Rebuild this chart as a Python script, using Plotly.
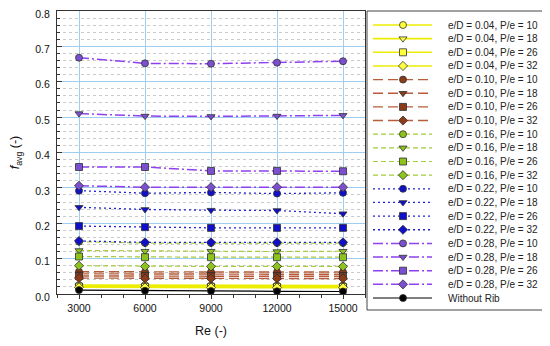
import plotly.graph_objects as go

# ---------------- data ----------------
RE = [3000, 6000, 9000, 12000, 15000]

F_04_10 = [0.025, 0.025, 0.024, 0.024, 0.024]
F_04_18 = [0.023, 0.022, 0.022, 0.022, 0.022]
F_04_26 = [0.021, 0.020, 0.020, 0.020, 0.020]
F_04_32 = [0.019, 0.018, 0.018, 0.018, 0.018]
F_10_10 = [0.063, 0.062, 0.062, 0.062, 0.062]
F_10_18 = [0.057, 0.056, 0.056, 0.056, 0.056]
F_10_26 = [0.051, 0.050, 0.050, 0.050, 0.050]
F_10_32 = [0.045, 0.044, 0.044, 0.044, 0.044]
F_16_10 = [0.148, 0.144, 0.144, 0.144, 0.144]
F_16_18 = [0.123, 0.121, 0.121, 0.120, 0.121]
F_16_26 = [0.106, 0.104, 0.104, 0.104, 0.104]
F_16_32 = [0.080, 0.078, 0.078, 0.078, 0.078]
F_22_10 = [0.292, 0.285, 0.287, 0.284, 0.286]
F_22_18 = [0.245, 0.239, 0.237, 0.236, 0.227]
F_22_26 = [0.192, 0.189, 0.187, 0.187, 0.187]
F_22_32 = [0.150, 0.146, 0.146, 0.146, 0.146]
F_28_10 = [0.668, 0.652, 0.651, 0.654, 0.658]
F_28_18 = [0.510, 0.503, 0.502, 0.503, 0.505]
F_28_26 = [0.359, 0.359, 0.348, 0.348, 0.347]
F_28_32 = [0.306, 0.302, 0.302, 0.302, 0.302]
F_NO_RIB = [0.0110, 0.0092, 0.0083, 0.0076, 0.0071]

ED_VALUES = ["0.04", "0.10", "0.16", "0.22", "0.28"]
PE_VALUES = ["10", "18", "26", "32"]
SERIES = [
    F_04_10, F_04_18, F_04_26, F_04_32,
    F_10_10, F_10_18, F_10_26, F_10_32,
    F_16_10, F_16_18, F_16_26, F_16_32,
    F_22_10, F_22_18, F_22_26, F_22_32,
    F_28_10, F_28_18, F_28_26, F_28_32,
]
X_TICKS = [3000, 6000, 9000, 12000, 15000]
Y_TICKS = [0.0, 0.1, 0.2, 0.3, 0.4, 0.5, 0.6, 0.7, 0.8]

# ---------------- styles ----------------
GROUP_STYLE = {
    "0.04": dict(color="#EDED00", dash="solid", fill="#FFFF40", width=1.6),
    "0.10": dict(color="#B85C3C", dash="10px,5px", fill="#8B3A1A", width=1.4),
    "0.16": dict(color="#A8CC3A", dash="5px,3px", fill="#8DC21F", width=1.2),
    "0.22": dict(color="#2020D0", dash="2px,3px", fill="#1010C8", width=1.3),
    "0.28": dict(color="#9040F0", dash="10px,3px,2px,3px", fill="#7A4FD0", width=1.5),
}
PE_SYMBOL = {"10": "circle", "18": "triangle-down", "26": "square", "32": "diamond"}
NO_RIB_STYLE = dict(color="#000000", dash="solid", fill="#000000", width=1.2)

FONT = "Liberation Sans, Arial, sans-serif"

fig = go.Figure()

entries = []
k = 0
for ed in ED_VALUES:
    for pe in PE_VALUES:
        entries.append((f"e/D = {ed}, P/e = {pe}", SERIES[k], GROUP_STYLE[ed], PE_SYMBOL[pe]))
        k += 1
entries.append(("Without Rib", F_NO_RIB, NO_RIB_STYLE, "circle"))

for name, vals, st, sym in entries:
    fig.add_trace(go.Scatter(
        x=RE, y=vals, mode="lines+markers", name=name, showlegend=False,
        line=dict(color=st["color"], dash=st["dash"], width=st["width"]),
        marker=dict(symbol=sym, size=7, color=st["fill"],
                    line=dict(color="#303030", width=0.8)),
        xaxis="x", yaxis="y",
    ))

# custom compact legend (on its own axes; x2 units = reference pixel columns)
LEG_X_LINE = [373, 403, 432]
for i, (name, vals, st, sym) in enumerate(entries):
    fig.add_trace(go.Scatter(
        x=LEG_X_LINE, y=[i, i, i], mode="lines+markers", showlegend=False,
        hoverinfo="skip",
        line=dict(color=st["color"], dash=st["dash"], width=st["width"]),
        marker=dict(symbol=sym, size=7, color=st["fill"], opacity=[0, 1, 0],
                    line=dict(color="#303030", width=0.8)),
        xaxis="x2", yaxis="y2",
    ))
    fig.add_annotation(x=446, y=i, xref="x2", yref="y2", text=name,
                       showarrow=False, xanchor="left", yanchor="middle",
                       font=dict(family=FONT, size=10, color="#222222"))

# The page body has an 8px default margin: build the figure 8px smaller and
# shift every reference pixel position by that amount.
PAGE_OFF = 8
W, H = 550 - PAGE_OFF, 346 - 2 * PAGE_OFF
plot_left, plot_right = 57 - PAGE_OFF, 365 - PAGE_OFF
plot_top, plot_bottom = 11 - PAGE_OFF, 294 - PAGE_OFF
leg_left, leg_right = 367 - PAGE_OFF, 543 - PAGE_OFF
leg_top, leg_bottom = 11 - PAGE_OFF, 310 - PAGE_OFF

ML, MT = plot_left, plot_top
MR = W - leg_right
MB = H - leg_bottom
pw = W - ML - MR
ph = H - MT - MB

x_dom = [0, (plot_right - ML) / pw]
y_dom = [(leg_bottom - plot_bottom) / ph, 1]
x2_dom = [(leg_left - ML) / pw, 1]

fig.update_layout(
    width=W, height=H,
    margin=dict(l=ML, r=MR, t=MT, b=MB, autoexpand=False),
    paper_bgcolor="white", plot_bgcolor="white",
    font=dict(family=FONT, color="#111111"),
    xaxis=dict(
        domain=x_dom, range=[2000, 16000], tickvals=X_TICKS, tickformat="d",
        automargin=False,
        showgrid=True, gridcolor="#9ECDF0", gridwidth=1,
        showline=True, linecolor="#333333", linewidth=1, mirror=True,
        ticks="outside", ticklen=4, tickcolor="#333333",
        minor=dict(dtick=1000, tick0=0, ticks="outside", ticklen=3,
                   tickcolor="#333333", showgrid=False),
        tickfont=dict(size=10.5, color="#111111"),
        title=dict(text="Re (-)", font=dict(size=12.5, color="#111111"), standoff=14),
        zeroline=False,
    ),
    yaxis=dict(
        domain=y_dom, range=[0, 0.8], tickvals=Y_TICKS, tickformat=".1f",
        automargin=False, ticklabeloverflow="allow", ticklabelshift=3,
        showgrid=True, gridcolor="#9ECDF0", gridwidth=1,
        showline=True, linecolor="#333333", linewidth=1, mirror=True,
        ticks="inside", ticklen=5, tickcolor="#333333",
        minor=dict(dtick=0.02, tick0=0, ticks="inside", ticklen=3,
                   tickcolor="#333333", showgrid=True, gridcolor="#CACACA",
                   griddash="dot", gridwidth=1),
        tickfont=dict(size=10.5, color="#111111"),
        ticklabelstandoff=4,
        title=dict(text="<i>f</i><sub>avg</sub> (-)", font=dict(size=12.5, color="#111111"),
                   standoff=21),
        zeroline=False,
    ),
    xaxis2=dict(domain=x2_dom, range=[367, 543], visible=False,
                fixedrange=True, automargin=False),
    yaxis2=dict(domain=[0, 1], anchor="x2", automargin=False,
                range=[20 + (310 - 298) / 13.65, -(25 - 11) / 13.65],
                visible=False, fixedrange=True),
    shapes=[dict(type="rect", xref="x2 domain", yref="y2 domain",
                 x0=0, x1=1, y0=0, y1=1,
                 line=dict(color="#444444", width=1), fillcolor="rgba(0,0,0,0)")],
)

fig.write_html("out.html")
